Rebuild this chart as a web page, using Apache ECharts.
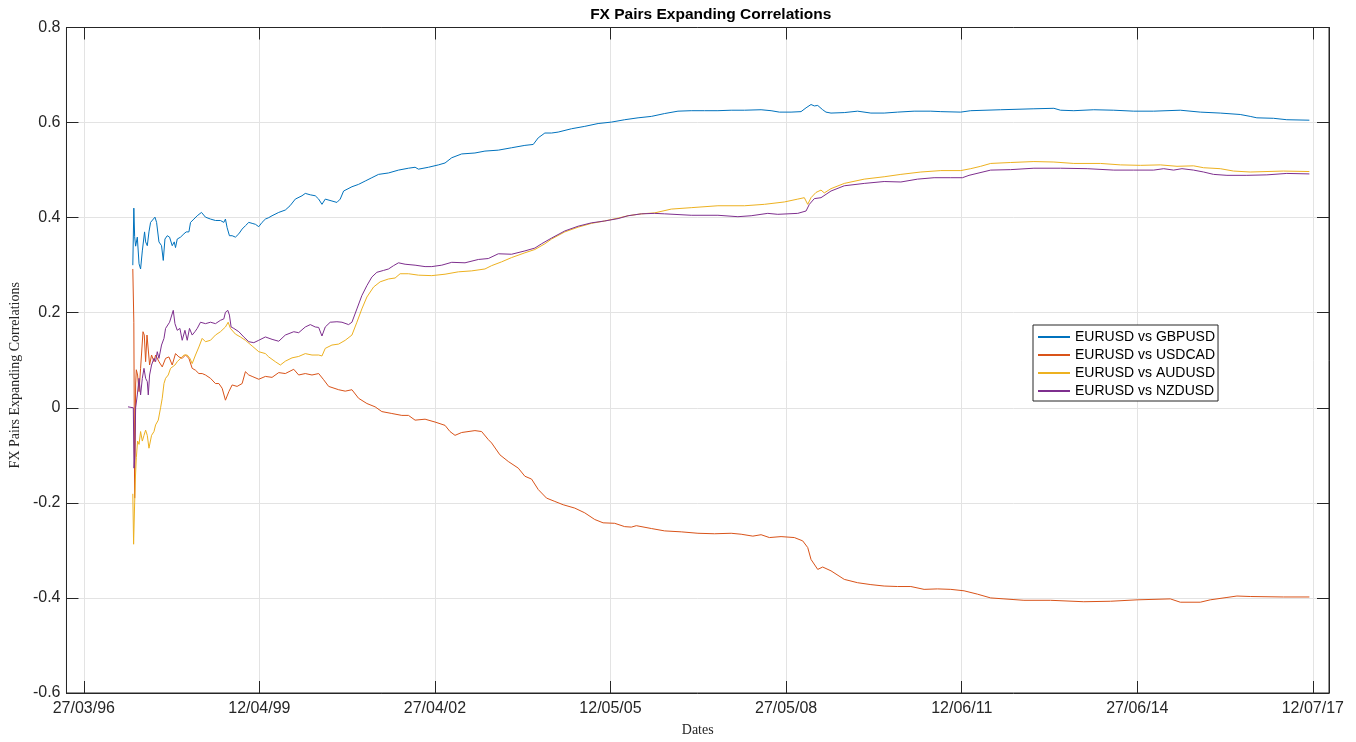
<!DOCTYPE html>
<html>
<head>
<meta charset="utf-8">
<script src="https://cdn.jsdelivr.net/npm/echarts@6/dist/echarts.min.js"></script>
<style>
  html, body { margin: 0; padding: 0; background: #ffffff; }
  #chart { width: 1356px; height: 742px; }
</style>
</head>
<body>
<div id="chart"></div>
<script>
// Expanding-window correlations of EURUSD against four other USD pairs.
// x values are decimal years, y values are correlation coefficients.
const chartTitle = 'FX Pairs Expanding Correlations';
const yAxisTitle = 'FX Pairs Expanding Correlations';
const xAxisTitle = 'Dates';
const seriesNames = ['EURUSD vs GBPUSD', 'EURUSD vs USDCAD', 'EURUSD vs AUDUSD', 'EURUSD vs NZDUSD'];
const tickLabels = ['27/03/96', '12/04/99', '27/04/02', '12/05/05', '27/05/08', '12/06/11', '27/06/14', '12/07/17'];

const gbpusd = [
  [1997.084,0.300],[1997.102,0.420],[1997.116,0.360],[1997.133,0.340],[1997.162,0.359],[1997.192,0.303],[1997.219,0.292],
  [1997.249,0.330],[1997.288,0.370],[1997.306,0.349],[1997.335,0.341],[1997.364,0.370],[1997.392,0.390],[1997.422,0.390],
  [1997.468,0.401],[1997.496,0.390],[1997.537,0.349],[1997.582,0.341],[1997.612,0.310],[1997.641,0.355],[1997.681,0.362],
  [1997.721,0.359],[1997.767,0.341],[1997.802,0.349],[1997.824,0.337],[1997.854,0.355],[1997.911,0.359],[1997.970,0.366],
  [1998.009,0.370],[1998.056,0.370],[1998.084,0.390],[1998.143,0.397],[1998.200,0.404],[1998.274,0.411],[1998.343,0.401],
  [1998.430,0.397],[1998.516,0.394],[1998.602,0.394],[1998.661,0.390],[1998.689,0.397],[1998.718,0.379],[1998.758,0.362],
  [1998.805,0.362],[1998.862,0.359],[1998.921,0.366],[1998.978,0.376],[1999.035,0.383],[1999.093,0.390],[1999.151,0.388],
  [1999.208,0.386],[1999.266,0.381],[1999.323,0.390],[1999.381,0.397],[1999.439,0.400],[1999.496,0.404],[1999.612,0.411],
  [1999.726,0.416],[1999.808,0.425],[1999.899,0.439],[2000.015,0.446],[2000.072,0.451],[2000.159,0.448],[2000.245,0.446],
  [2000.304,0.439],[2000.361,0.428],[2000.418,0.439],[2000.534,0.435],[2000.620,0.432],[2000.677,0.439],[2000.736,0.456],
  [2000.880,0.465],[2000.995,0.470],[2001.110,0.477],[2001.225,0.484],[2001.341,0.491],[2001.514,0.494],[2001.687,0.500],
  [2001.860,0.504],[2001.974,0.506],[2002.033,0.502],[2002.206,0.506],[2002.379,0.511],[2002.493,0.515],[2002.609,0.526],
  [2002.781,0.534],[2003.011,0.536],[2003.184,0.540],[2003.416,0.542],[2003.646,0.547],[2003.876,0.552],[2004.021,0.554],
  [2004.108,0.568],[2004.222,0.578],[2004.338,0.578],[2004.453,0.580],[2004.683,0.587],[2004.913,0.592],[2005.145,0.598],
  [2005.375,0.601],[2005.605,0.606],[2005.837,0.610],[2006.067,0.613],[2006.297,0.619],[2006.528,0.624],[2006.758,0.625],
  [2006.988,0.625],[2007.220,0.625],[2007.450,0.626],[2007.680,0.626],[2007.968,0.627],[2008.141,0.625],[2008.285,0.622],
  [2008.487,0.622],[2008.660,0.623],[2008.747,0.631],[2008.833,0.638],[2008.890,0.635],[2008.949,0.636],[2009.035,0.627],
  [2009.092,0.622],[2009.179,0.620],[2009.409,0.621],[2009.640,0.624],[2009.870,0.620],[2010.100,0.620],[2010.332,0.622],
  [2010.619,0.624],[2010.908,0.624],[2011.081,0.623],[2011.426,0.622],[2011.599,0.625],[2012.118,0.627],[2012.694,0.629],
  [2013.040,0.630],[2013.155,0.626],[2013.385,0.625],[2013.731,0.627],[2014.077,0.626],[2014.423,0.624],[2014.769,0.624],
  [2015.230,0.626],[2015.576,0.622],[2015.922,0.620],[2016.268,0.617],[2016.441,0.613],[2016.556,0.610],[2016.843,0.609],
  [2017.075,0.606],[2017.466,0.605]
];

const usdcad = [
  [1997.084,0.292],[1997.102,0.180],[1997.116,-0.190],[1997.133,0.050],[1997.145,0.080],[1997.167,0.069],[1997.192,0.034],
  [1997.219,0.083],[1997.261,0.160],[1997.283,0.153],[1997.306,0.097],[1997.330,0.153],[1997.352,0.153],[1997.375,0.090],
  [1997.409,0.111],[1997.451,0.097],[1997.479,0.111],[1997.537,0.097],[1997.594,0.086],[1997.652,0.104],[1997.710,0.107],
  [1997.767,0.090],[1997.824,0.114],[1997.883,0.107],[1997.940,0.104],[1997.997,0.111],[1998.056,0.104],[1998.113,0.083],
  [1998.170,0.079],[1998.229,0.072],[1998.286,0.072],[1998.343,0.069],[1998.430,0.062],[1998.516,0.051],[1998.575,0.051],
  [1998.632,0.041],[1998.689,0.016],[1998.718,0.018],[1998.748,0.034],[1998.805,0.048],[1998.891,0.045],[1998.978,0.051],
  [1999.035,0.076],[1999.093,0.069],[1999.151,0.066],[1999.266,0.060],[1999.381,0.066],[1999.496,0.064],[1999.612,0.074],
  [1999.726,0.072],[1999.872,0.081],[1999.958,0.069],[2000.072,0.072],[2000.188,0.069],[2000.304,0.072],[2000.390,0.059],
  [2000.477,0.045],[2000.650,0.038],[2000.764,0.035],[2000.880,0.038],[2000.995,0.020],[2001.139,0.009],[2001.282,0.002],
  [2001.398,-0.008],[2001.571,-0.012],[2001.744,-0.016],[2001.860,-0.016],[2001.974,-0.026],[2002.147,-0.024],[2002.320,-0.030],
  [2002.493,-0.037],[2002.579,-0.050],[2002.666,-0.058],[2002.781,-0.052],[2003.011,-0.048],[2003.127,-0.050],[2003.243,-0.067],
  [2003.300,-0.074],[2003.444,-0.099],[2003.589,-0.113],[2003.762,-0.127],[2003.876,-0.144],[2003.992,-0.150],[2004.108,-0.172],
  [2004.251,-0.190],[2004.395,-0.197],[2004.540,-0.204],[2004.740,-0.211],[2004.913,-0.221],[2005.086,-0.235],[2005.231,-0.242],
  [2005.432,-0.243],[2005.605,-0.250],[2005.721,-0.251],[2005.807,-0.248],[2006.067,-0.254],[2006.297,-0.259],[2006.585,-0.261],
  [2006.874,-0.264],[2007.161,-0.265],[2007.450,-0.264],[2007.623,-0.266],[2007.825,-0.270],[2007.968,-0.267],[2008.112,-0.273],
  [2008.314,-0.271],[2008.544,-0.273],[2008.689,-0.280],[2008.776,-0.294],[2008.833,-0.319],[2008.949,-0.340],[2009.035,-0.335],
  [2009.179,-0.343],[2009.409,-0.361],[2009.640,-0.368],[2009.870,-0.372],[2010.100,-0.375],[2010.332,-0.376],[2010.562,-0.376],
  [2010.792,-0.382],[2011.024,-0.381],[2011.254,-0.382],[2011.484,-0.385],[2011.715,-0.392],[2011.945,-0.400],[2012.175,-0.402],
  [2012.521,-0.405],[2012.983,-0.405],[2013.558,-0.408],[2014.020,-0.407],[2014.482,-0.404],[2015.057,-0.402],[2015.230,-0.409],
  [2015.576,-0.409],[2015.749,-0.404],[2016.038,-0.399],[2016.211,-0.396],[2016.441,-0.397],[2017.016,-0.398],[2017.466,-0.398]
];

const audusd = [
  [1997.084,-0.181],[1997.098,-0.287],[1997.116,-0.200],[1997.128,-0.150],[1997.145,-0.105],[1997.167,-0.070],[1997.192,-0.077],
  [1997.219,-0.050],[1997.249,-0.070],[1997.278,-0.058],[1997.306,-0.047],[1997.335,-0.058],[1997.364,-0.085],[1997.382,-0.088],
  [1997.409,-0.058],[1997.451,-0.050],[1997.479,-0.036],[1997.525,-0.026],[1997.565,0.000],[1997.594,0.020],[1997.624,0.051],
  [1997.652,0.062],[1997.698,0.069],[1997.738,0.083],[1997.767,0.083],[1997.814,0.090],[1997.854,0.097],[1997.911,0.104],
  [1997.970,0.111],[1998.027,0.111],[1998.073,0.104],[1998.113,0.093],[1998.170,0.111],[1998.229,0.128],[1998.286,0.146],
  [1998.343,0.139],[1998.430,0.142],[1998.516,0.153],[1998.602,0.160],[1998.689,0.170],[1998.736,0.180],[1998.775,0.167],
  [1998.862,0.155],[1998.948,0.149],[1999.035,0.142],[1999.151,0.130],[1999.266,0.118],[1999.381,0.114],[1999.439,0.107],
  [1999.553,0.097],[1999.640,0.090],[1999.726,0.098],[1999.842,0.105],[1999.958,0.108],[2000.072,0.114],[2000.188,0.111],
  [2000.304,0.111],[2000.361,0.109],[2000.418,0.125],[2000.534,0.132],[2000.650,0.134],[2000.764,0.142],[2000.880,0.153],
  [2000.966,0.180],[2001.052,0.208],[2001.139,0.233],[2001.255,0.254],[2001.369,0.265],[2001.514,0.271],[2001.628,0.273],
  [2001.715,0.282],[2001.860,0.282],[2002.033,0.279],[2002.263,0.278],[2002.493,0.281],[2002.724,0.286],[2002.954,0.288],
  [2003.184,0.292],[2003.300,0.299],[2003.473,0.307],[2003.646,0.316],[2003.876,0.326],[2004.049,0.333],[2004.222,0.345],
  [2004.338,0.355],[2004.568,0.370],[2004.799,0.380],[2005.029,0.388],[2005.259,0.393],[2005.491,0.399],[2005.664,0.404],
  [2005.894,0.408],[2006.124,0.410],[2006.412,0.418],[2006.758,0.421],[2007.220,0.425],[2007.680,0.425],[2008.026,0.428],
  [2008.371,0.433],[2008.603,0.439],[2008.717,0.442],[2008.776,0.428],[2008.833,0.442],[2008.919,0.453],[2009.006,0.458],
  [2009.063,0.452],[2009.179,0.461],[2009.409,0.472],[2009.755,0.481],[2010.100,0.486],[2010.389,0.491],[2010.735,0.496],
  [2011.081,0.499],[2011.426,0.499],[2011.599,0.503],[2011.772,0.508],[2011.945,0.514],[2012.291,0.516],[2012.694,0.518],
  [2013.040,0.517],[2013.385,0.514],[2013.847,0.514],[2014.193,0.511],[2014.539,0.510],[2014.885,0.511],[2015.173,0.508],
  [2015.460,0.509],[2015.633,0.505],[2015.922,0.503],[2016.152,0.498],[2016.441,0.496],[2017.016,0.498],[2017.466,0.497]
];

const nzdusd = [
  [1997.001,0.002],[1997.093,0.000],[1997.105,-0.127],[1997.119,-0.100],[1997.133,0.000],[1997.162,0.027],[1997.192,0.062],
  [1997.219,0.027],[1997.249,0.062],[1997.278,0.083],[1997.306,0.062],[1997.335,0.055],[1997.352,0.027],[1997.375,0.069],
  [1997.409,0.090],[1997.451,0.104],[1997.479,0.097],[1997.508,0.118],[1997.537,0.104],[1997.582,0.132],[1997.624,0.146],
  [1997.652,0.167],[1997.681,0.170],[1997.721,0.180],[1997.755,0.184],[1997.785,0.205],[1997.814,0.177],[1997.854,0.163],
  [1997.900,0.167],[1997.940,0.142],[1997.987,0.163],[1998.027,0.142],[1998.066,0.167],[1998.113,0.153],[1998.160,0.160],
  [1998.200,0.167],[1998.257,0.180],[1998.343,0.177],[1998.430,0.180],[1998.516,0.177],[1998.602,0.184],[1998.661,0.187],
  [1998.689,0.201],[1998.730,0.205],[1998.758,0.195],[1998.787,0.170],[1998.834,0.167],[1998.921,0.160],[1999.007,0.149],
  [1999.093,0.139],[1999.180,0.137],[1999.266,0.142],[1999.381,0.149],[1999.496,0.144],[1999.612,0.140],[1999.726,0.153],
  [1999.872,0.160],[1999.958,0.158],[2000.072,0.170],[2000.159,0.175],[2000.245,0.170],[2000.304,0.169],[2000.361,0.151],
  [2000.418,0.170],[2000.504,0.180],[2000.620,0.181],[2000.707,0.180],[2000.822,0.175],[2000.880,0.180],[2000.966,0.208],
  [2001.052,0.236],[2001.139,0.257],[2001.225,0.275],[2001.312,0.285],[2001.428,0.289],[2001.514,0.292],[2001.601,0.299],
  [2001.687,0.305],[2001.801,0.302],[2001.974,0.300],[2002.147,0.297],[2002.263,0.297],[2002.436,0.300],[2002.609,0.306],
  [2002.839,0.305],[2003.070,0.312],[2003.243,0.314],[2003.416,0.324],[2003.646,0.323],[2003.876,0.330],[2004.049,0.336],
  [2004.165,0.345],[2004.338,0.357],[2004.568,0.372],[2004.799,0.382],[2005.029,0.389],[2005.259,0.393],[2005.491,0.398],
  [2005.664,0.404],[2005.894,0.408],[2006.124,0.409],[2006.297,0.408],[2006.758,0.405],[2007.220,0.405],[2007.566,0.402],
  [2007.796,0.404],[2008.084,0.409],[2008.257,0.407],[2008.603,0.409],[2008.747,0.414],[2008.804,0.428],[2008.890,0.440],
  [2009.006,0.442],[2009.179,0.456],[2009.409,0.467],[2009.755,0.472],[2010.100,0.476],[2010.389,0.475],[2010.678,0.481],
  [2010.965,0.484],[2011.254,0.484],[2011.456,0.484],[2011.570,0.489],[2011.945,0.500],[2012.291,0.501],[2012.694,0.504],
  [2013.155,0.504],[2013.617,0.503],[2014.077,0.500],[2014.423,0.500],[2014.769,0.500],[2014.942,0.503],[2015.114,0.500],
  [2015.259,0.503],[2015.460,0.500],[2015.633,0.496],[2015.806,0.491],[2016.038,0.489],[2016.383,0.489],[2016.729,0.490],
  [2017.075,0.493],[2017.466,0.492]
];

// dd/mm/yy -> decimal year
function labelToYear(label) {
  const [d, m, yy] = label.split('/').map(Number);
  const yr = yy < 50 ? 2000 + yy : 1900 + yy;
  const start = Date.UTC(yr, 0, 1);
  const end = Date.UTC(yr + 1, 0, 1);
  return yr + (Date.UTC(yr, m - 1, d) - start) / (end - start);
}
const tickYears = tickLabels.map(labelToYear);
function yearToLabel(v) {
  let best = 0;
  tickYears.forEach((t, i) => { if (Math.abs(t - v) < Math.abs(tickYears[best] - v)) best = i; });
  return tickLabels[best];
}

const X_MIN = 1995.935, X_MAX = 2017.806;
const AXIS_COLOR = '#262626';
const GRID_COLOR = '#e3e3e3';
const SANS = '"Liberation Sans", Arial, Helvetica, sans-serif';
const SERIF = '"Liberation Serif", "Times New Roman", serif';
const colors = ['#0072BD', '#D95319', '#EDB120', '#7E2F8E'];

const chart = echarts.init(document.getElementById('chart'), null, { renderer: 'canvas' });

const innerTick = { show: true, inside: true, length: 12, lineStyle: { color: AXIS_COLOR, width: 1 } };
const boxLine = { show: true, onZero: false, lineStyle: { color: AXIS_COLOR, width: 1 } };

chart.setOption({
  animation: false,
  backgroundColor: '#ffffff',
  color: colors,
  grid: {
    left: 64, right: 27, top: 27.5, bottom: 46.5,
    show: true, borderColor: AXIS_COLOR, borderWidth: 1, backgroundColor: 'transparent'
  },
  legend: {
    data: seriesNames,
    orient: 'vertical',
    left: 1033, top: 325,
    padding: [5, 3, 3, 4],
    itemWidth: 32, itemHeight: 14, itemGap: 4,
    itemStyle: { opacity: 0 },
    backgroundColor: '#ffffff',
    borderColor: AXIS_COLOR, borderWidth: 1, borderRadius: 0,
    textStyle: { fontFamily: SANS, fontSize: 14, color: '#000000' },
    selectedMode: false
  },
  xAxis: [
    {
      type: 'value', position: 'bottom', min: X_MIN, max: X_MAX,
      name: xAxisTitle, nameLocation: 'middle', nameGap: 30,
      nameTextStyle: { fontFamily: SERIF, fontSize: 14, color: AXIS_COLOR },
      axisLine: boxLine,
      axisTick: Object.assign({ customValues: tickYears }, innerTick),
      axisLabel: {
        customValues: tickYears, margin: 8,
        fontFamily: SANS, fontSize: 16, color: AXIS_COLOR,
        formatter: yearToLabel
      },
      splitLine: { show: true, lineStyle: { color: GRID_COLOR, width: 1 } }
    },
    {
      type: 'value', position: 'top', min: X_MIN, max: X_MAX,
      name: chartTitle, nameLocation: 'middle', nameGap: 5,
      nameTextStyle: { fontFamily: SANS, fontSize: 15.5, fontWeight: 'bold', color: '#000000', padding: [0, 0, 0, 26] },
      axisLine: boxLine,
      axisTick: Object.assign({ customValues: tickYears }, innerTick),
      axisLabel: { show: false, customValues: tickYears },
      splitLine: { show: false }
    }
  ],
  yAxis: [
    {
      type: 'value', position: 'left', min: -0.6, max: 0.8, interval: 0.2,
      name: yAxisTitle, nameLocation: 'middle', nameGap: 29,
      nameTextStyle: { fontFamily: SERIF, fontSize: 14, color: AXIS_COLOR, padding: [0, 30, 0, 0] },
      axisLine: boxLine,
      axisTick: innerTick,
      axisLabel: {
        margin: 6, fontFamily: SANS, fontSize: 16, color: AXIS_COLOR,
        formatter: v => String(Number(v.toFixed(1)))
      },
      splitLine: { show: true, lineStyle: { color: GRID_COLOR, width: 1 } }
    },
    {
      type: 'value', position: 'right', min: -0.6, max: 0.8, interval: 0.2,
      axisLine: boxLine,
      axisTick: innerTick,
      axisLabel: { show: false },
      splitLine: { show: false }
    }
  ],
  series: [gbpusd, usdcad, audusd, nzdusd].map((data, i) => ({
    name: seriesNames[i],
    type: 'line',
    xAxisIndex: 0,
    yAxisIndex: 0,
    data: data,
    symbol: 'none',
    showSymbol: false,
    lineStyle: { width: 1, color: colors[i] },
    itemStyle: { color: colors[i] },
    emphasis: { disabled: true }
  }))
});
</script>
</body>
</html>
